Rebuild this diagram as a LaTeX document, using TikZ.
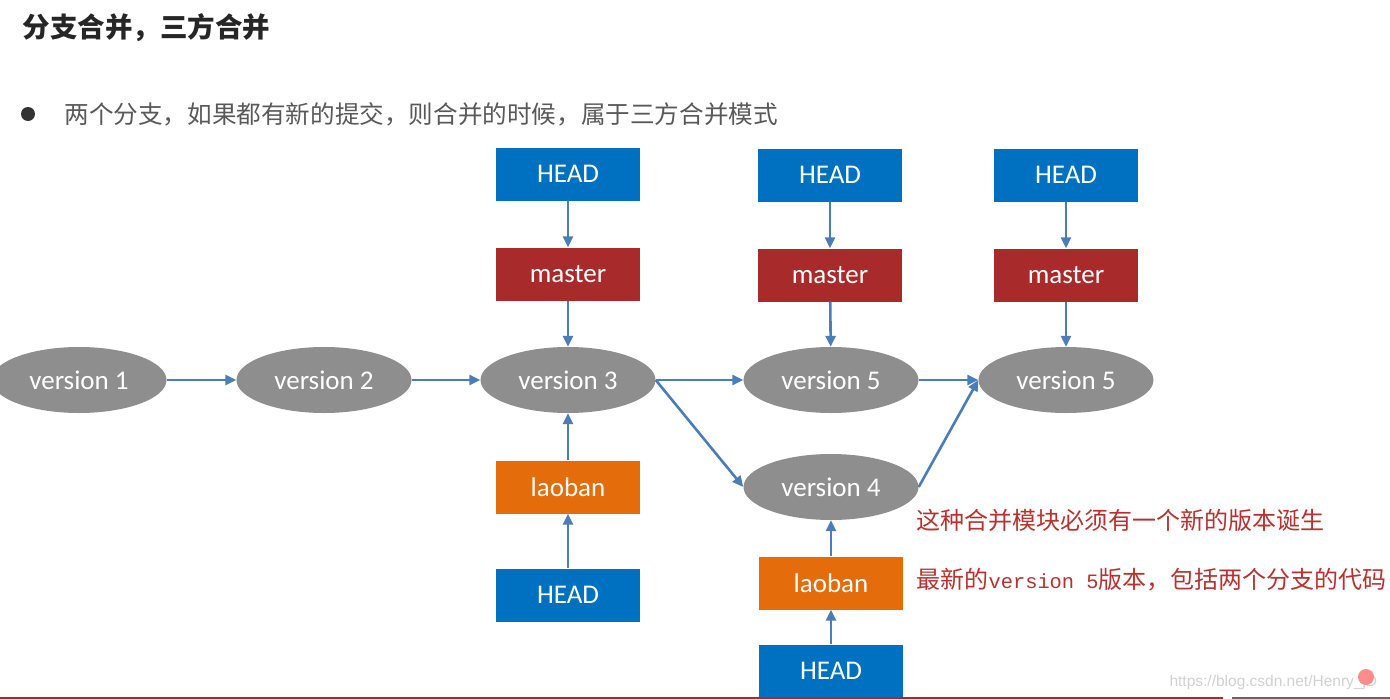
\documentclass[tikz,border=0pt]{standalone}
\usepackage{fontspec}
\setmainfont{Carlito}
\newfontfamily\cjk{Noto Sans CJK SC}
\newfontfamily\codefont{Liberation Mono}
\newfontfamily\webfont{Liberation Sans}
\usetikzlibrary{shapes.geometric, arrows.meta}

\begin{document}
\begin{tikzpicture}[x=1pt, y=-1pt,
    box/.style={rectangle, minimum width=144pt, minimum height=53pt, inner sep=0pt, text=white, font=\fontsize{27}{30}\selectfont},
    headbox/.style={box, fill=headColour},
    masterbox/.style={box, fill=masterColour},
    laobanbox/.style={box, fill=laobanColour},
    versionnode/.style={ellipse, minimum width=175pt, minimum height=66pt, inner sep=0pt, fill=versionColour, text=white, font=\fontsize{27}{30}\selectfont},
    link/.style={draw=linkColour, line width=2.6pt, -{Triangle[length=11pt, width=10pt]}}]
    \definecolor{headColour}{HTML}{0070C0}
    \definecolor{masterColour}{HTML}{A92A2A}
    \definecolor{laobanColour}{HTML}{E46C0A}
    \definecolor{versionColour}{HTML}{8E8E8E}
    \definecolor{linkColour}{HTML}{4A7EBB}
    \definecolor{noteColour}{HTML}{B8312F}

    \useasboundingbox (0,0) rectangle (1390,699);

    % Title and bullet line
    \node[anchor=west, font=\cjk\bfseries\fontsize{27.5}{30}\selectfont, text=black!85] (title) at (19,28) {分支合并，三方合并};
    \fill[black!80] (28,114) circle (7);
    \node[anchor=west, font=\cjk\fontsize{24.6}{28}\selectfont, text=black!65] (bullet) at (61,114) {两个分支，如果都有新的提交，则合并的时候，属于三方合并模式};

    % Versions
    \node[versionnode] (v1) at (79,380) {version 1};
    \node[versionnode] (v2) at (324,380) {version 2};
    \node[versionnode] (v3) at (568,380) {version 3};
    \node[versionnode] (v5) at (831,380) {version 5};
    \node[versionnode] (v5r) at (1066,380) {version 5};
    \node[versionnode] (v4) at (831,487) {version 4};

    % Pointers on version 3
    \node[headbox] (head1) at (568,174) {HEAD};
    \node[masterbox] (master1) at (568,274) {master};
    \node[laobanbox] (laoban1) at (568,487) {laoban};
    \node[headbox] (headb1) at (568,595) {HEAD};

    % Pointers on version 5 and version 4
    \node[headbox] (head2) at (830,175) {HEAD};
    \node[masterbox] (master2) at (830,275) {master};
    \node[headbox] (head3) at (1066,175) {HEAD};
    \node[masterbox] (master3) at (1066,275) {master};
    \node[laobanbox] (laoban2) at (831,583) {laoban};
    \node[headbox] (headb2) at (831,671) {HEAD};

    % Commit links
    \draw[link] (v1) -- (v2);
    \draw[link] (v2) -- (v3);
    \draw[link] (v3.east) -- (v5.west);
    \draw[link] (v3.east) -- (v4.west);
    \draw[link] (v5) -- (v5r);
    \draw[link] (v4.east) -- (v5r.west);

    % Pointer links
    \draw[link] (head1) -- (master1);
    \draw[link] (master1) -- (v3);
    \draw[link] (headb1) -- (laoban1);
    \draw[link] (laoban1) -- (v3);
    \draw[link] (head2) -- (master2);
    \draw[link] (master2) -- (v5);
    \draw[link] (head3) -- (master3);
    \draw[link] (master3) -- (v5r);
    \draw[link] (headb2) -- (laoban2);
    \draw[link] (laoban2) -- (v4);

    % Notes
    \node[anchor=west, font=\cjk\fontsize{24}{28}\selectfont, text=noteColour] (note1) at (913,520) {这种合并模块必须有一个新的版本诞生};
    \node[anchor=west, font=\cjk\fontsize{24}{28}\selectfont, text=noteColour] (note2) at (913,580) {最新的{\codefont\fontsize{20.4}{24}\selectfont version 5}版本，包括两个分支的代码};

    % Page footer
    \draw[masterColour, line width=2pt] (0,698) -- (1223,698);
    \draw[black!60, line width=2pt] (1232,698) -- (1390,698);
    \node[anchor=west, font=\webfont\fontsize{15.5}{18}\selectfont, text=black!18] (mark) at (1166,682) {https://blog.csdn.net/Henry\_jD};
    \fill[red!45] (1366,677) circle (8);
\end{tikzpicture}
\end{document}
